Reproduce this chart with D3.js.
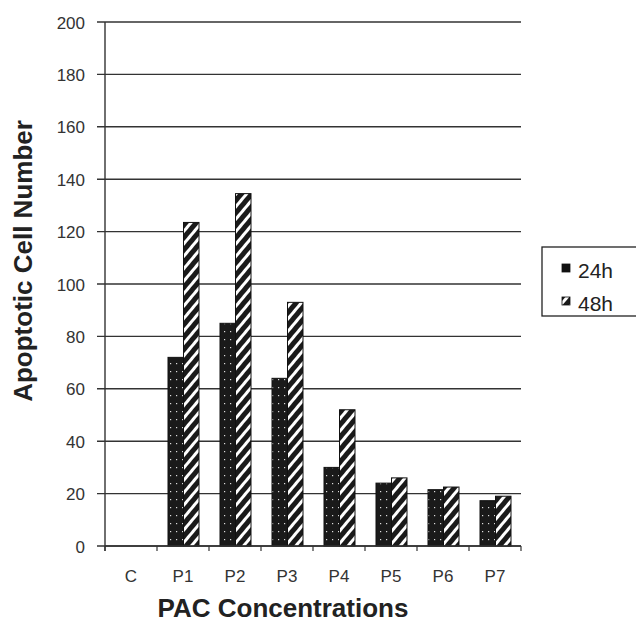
<!DOCTYPE html>
<html><head><meta charset="utf-8">
<script src="https://cdn.jsdelivr.net/npm/d3@7"></script>
<style>body{margin:0;background:#fff}</style>
</head><body><svg id="c" width="636" height="624"></svg>
<script>
const categories = ["C","P1","P2","P3","P4","P5","P6","P7"];
const series = ["24h","48h"];
const values24h = [0,72,85,64,30,24,21.5,17.3];
const values48h = [0,123.5,134.5,93,52,26,22.5,19];
const yTicks = [0,20,40,60,80,100,120,140,160,180,200];

const FONT = "Arial, 'Liberation Sans', sans-serif";
const svg = d3.select("#c");
const m = {l:105, r:521, t:22, b:546};
const x = d3.scaleBand().domain(categories).range([m.l, m.r]).padding(0);
const y = d3.scaleLinear().domain([0,200]).range([m.b, m.t]);
const xs = d3.scaleBand().domain(series).range([11, 42]);

const defs = svg.append("defs");
const dots = defs.append("pattern").attr("id","dots").attr("patternUnits","userSpaceOnUse").attr("width",6).attr("height",8);
dots.append("rect").attr("width",6).attr("height",8).attr("fill","#1a1a1a");
dots.append("rect").attr("x",2).attr("y",3).attr("width",1.2).attr("height",1.2).attr("fill","#ddd");
const hatch = defs.append("pattern").attr("id","hatch").attr("patternUnits","userSpaceOnUse").attr("width",8).attr("height",8).attr("patternTransform","rotate(40)");
hatch.append("rect").attr("width",8).attr("height",8).attr("fill","#1a1a1a");
hatch.append("rect").attr("x",0).attr("y",0).attr("width",3).attr("height",8).attr("fill","#fff");

// gridlines
svg.append("g").selectAll("line").data(yTicks).join("line")
  .attr("x1", m.l-8).attr("x2", m.r).attr("y1", d=>y(d)).attr("y2", d=>y(d))
  .attr("stroke","#333").attr("stroke-width",1.4);

// y axis line
svg.append("line").attr("x1",m.l).attr("x2",m.l).attr("y1",m.t).attr("y2",m.b+5).attr("stroke","#333").attr("stroke-width",1.4);

// y labels
svg.append("g").selectAll("text").data(yTicks).join("text")
  .attr("x", 85).attr("y", d=>y(d)+6.5).attr("text-anchor","end")
  .attr("font-family",FONT).attr("font-size",17).attr("fill","#333")
  .text(d=>d);

// bars
const data = categories.map((c,i)=>({c, v:[values24h[i], values48h[i]]}));
const g = svg.append("g");
data.forEach(d=>{
  series.forEach((s,j)=>{
    if (d.v[j] <= 0) return;
    g.append("rect")
      .attr("x", x(d.c)+xs(s)).attr("width", xs.bandwidth())
      .attr("y", y(d.v[j])).attr("height", y(0)-y(d.v[j]))
      .attr("fill", j===0 ? "url(#dots)" : "url(#hatch)")
      .attr("stroke","#111").attr("stroke-width",1);
  });
});

// x axis
svg.append("line").attr("x1",m.l).attr("x2",m.r).attr("y1",m.b).attr("y2",m.b).attr("stroke","#333").attr("stroke-width",1.4);
const bounds = categories.map(c=>x(c)).concat([m.r]);
svg.append("g").selectAll("line").data(bounds).join("line")
  .attr("x1",d=>d).attr("x2",d=>d).attr("y1",m.b).attr("y2",m.b+5).attr("stroke","#333").attr("stroke-width",1.2);
svg.append("g").selectAll("text").data(categories).join("text")
  .attr("x", d=>x(d)+x.bandwidth()/2).attr("y", 582).attr("text-anchor","middle")
  .attr("font-family",FONT).attr("font-size",17).attr("fill","#333")
  .text(d=>d);

// titles
svg.append("text").attr("x",283).attr("y",617).attr("text-anchor","middle")
  .attr("font-family",FONT).attr("font-weight","bold").attr("font-size",26).attr("fill","#222")
  .text("PAC Concentrations");
svg.append("text").attr("transform","translate(32,261) rotate(-90)").attr("text-anchor","middle")
  .attr("font-family",FONT).attr("font-weight","bold").attr("font-size",26).attr("fill","#222")
  .text("Apoptotic Cell Number");

// legend
const lg = svg.append("g");
lg.append("rect").attr("x",542).attr("y",247).attr("width",100).attr("height",69).attr("fill","#fff").attr("stroke","#222").attr("stroke-width",1.3);
series.forEach((s,j)=>{
  const yy = 278 + j*33;
  lg.append("rect").attr("x",562).attr("y",yy-14).attr("width",8).attr("height",8)
    .attr("fill", j===0 ? "#111" : "url(#hatch)").attr("stroke","#111").attr("stroke-width",0.8);
  lg.append("text").attr("x",578).attr("y",yy).attr("font-family",FONT)
    .attr("font-size",21).attr("fill","#222").text(s);
});
</script></body></html>
